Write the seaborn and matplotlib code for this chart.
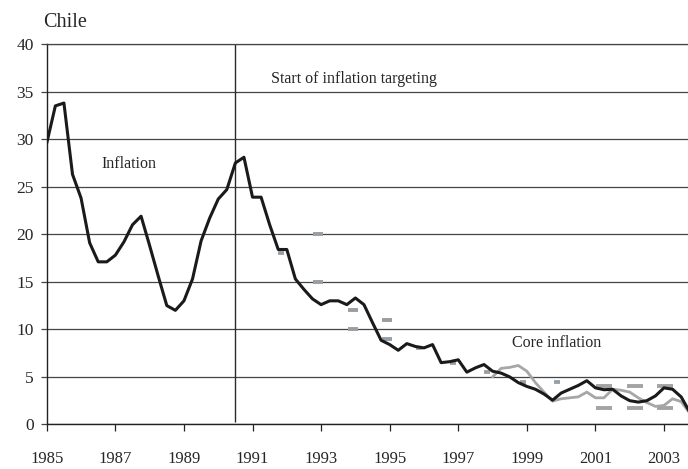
import numpy as np
import pandas as pd
import matplotlib
matplotlib.use("Agg")
import matplotlib.pyplot as plt
import seaborn as sns

# Quarterly inflation, Chile (annual %), 1985Q1 - 2003Q4
inflation = [
    29.6, 33.5, 33.8, 26.3,   # 1985
    23.8, 19.1, 17.1, 17.1,   # 1986
    17.8, 19.2, 21.0, 21.9,   # 1987
    18.8, 15.6, 12.5, 12.0,   # 1988
    13.0, 15.3, 19.3, 21.7,   # 1989
    23.7, 24.7, 27.5, 28.1,   # 1990
    23.9, 23.9, 21.0, 18.4,   # 1991
    18.4, 15.3, 14.2, 13.2,   # 1992
    12.6, 13.0, 13.0, 12.6,   # 1993
    13.3, 12.6, 10.7, 8.85,   # 1994
    8.4, 7.8, 8.5, 8.2,       # 1995
    8.05, 8.4, 6.5, 6.6,      # 1996
    6.8, 5.5, 5.95, 6.3,      # 1997
    5.6, 5.4, 5.0, 4.4,       # 1998
    4.0, 3.7, 3.2, 2.55,      # 1999
    3.3, 3.7, 4.1, 4.6,       # 2000
    3.85, 3.65, 3.7, 3.0,     # 2001
    2.5, 2.35, 2.5, 3.0,      # 2002
    3.85, 3.7, 2.9, 1.3,      # 2003
]

# Core inflation, 1998Q1 - 2003Q4
core = [
    5.0, 5.9, 6.0, 6.2,       # 1998
    5.6, 4.4, 3.4, 2.45,      # 1999
    2.7, 2.8, 2.9, 3.4,       # 2000
    2.8, 2.8, 3.7, 3.6,       # 2001
    3.4, 2.8, 2.3, 1.9,       # 2002
    2.0, 2.7, 2.4, 1.2,       # 2003
]

# Inflation targets (gray dashes)
point_target_year = [1991.84, 1995.86, 1996.85, 1997.84, 1998.89, 1999.87]
point_target_value = [18, 8, 6.5, 5.5, 4.5, 4.5]
range_target_year = [1992.92, 1992.92, 1993.92, 1993.92, 1994.92, 1994.92]
range_target_value = [20, 15, 12, 10, 11, 9]
band_target_year = [2001.24, 2001.24, 2002.15, 2002.15, 2003.04, 2003.04]
band_target_value = [4.0, 1.75, 4.0, 1.75, 4.0, 1.75]

targeting_start = 1990.5
year_ticks = list(range(1985, 2004, 2))

periods = pd.period_range("1985Q1", "2003Q4", freq="Q")
quarters = periods.year + (periods.quarter - 1) / 4
df = pd.DataFrame({"year": quarters, "inflation": inflation})
df_core = pd.DataFrame({"year": quarters[-len(core):], "core": core})

sns.set_theme(style="white")
plt.rcParams["font.family"] = ["Liberation Serif", "DejaVu Serif"]

fig = plt.figure(figsize=(6.88, 4.69), dpi=100)
ax = fig.add_axes([0.068, 0.095, 0.932, 0.811])

target_color = "#979ea4"
ax.plot(point_target_year, point_target_value, ls="none", marker="_",
        ms=4.2, mew=2.7, color=target_color, zorder=2.5)
ax.plot(range_target_year, range_target_value, ls="none", marker="_",
        ms=7.9, mew=2.8, color=target_color, zorder=2.5)
ax.plot(band_target_year, band_target_value, ls="none", marker="_",
        ms=11.4, mew=2.8, color="#a3a3a3", zorder=2.5)

sns.lineplot(data=df_core, x="year", y="core", ax=ax, color="#a6a6a6",
             lw=2.0, zorder=3)
sns.lineplot(data=df, x="year", y="inflation", ax=ax, color="#1a1a1a",
             lw=2.2, zorder=4)

ax.vlines(targeting_start, 0.3, 40, color="#2a2a2a", lw=1.0, zorder=1)

ax.set_xlim(1985, 2003.7)
ax.set_ylim(0, 40)
ax.set_yticks(range(0, 41, 5))
ax.set_xticks(year_ticks)
ax.grid(axis="y", color="#454545", lw=0.9)
ax.grid(axis="x", visible=False)

ax.spines["right"].set_visible(False)
ax.spines["top"].set_color("#454545")
ax.spines["top"].set_linewidth(0.9)
ax.spines["left"].set_color("#222222")
ax.spines["bottom"].set_color("#222222")
ax.spines["left"].set_linewidth(1.0)
ax.spines["bottom"].set_linewidth(1.0)

ax.tick_params(axis="x", direction="out", length=5, width=0.9,
               color="#222222", pad=14, labelsize=12, bottom=True)
ax.tick_params(axis="y", direction="out", length=4.5, width=0.9,
               color="#454545", pad=5, labelsize=12.5, left=True)
ax.set_xlabel("")
ax.set_ylabel("")

ax.text(1986.6, 27.4, "Inflation", fontsize=11.5, va="center", ha="left")
ax.text(1991.55, 36.3, "Start of inflation targeting", fontsize=11.5,
        va="center", ha="left")
ax.text(1998.58, 8.55, "Core inflation", fontsize=11.5, va="center", ha="left")
fig.text(0.062, 0.953, "Chile", fontsize=14.5, va="center", ha="left")

fig.savefig("out.png", dpi=100)
plt.close(fig)
